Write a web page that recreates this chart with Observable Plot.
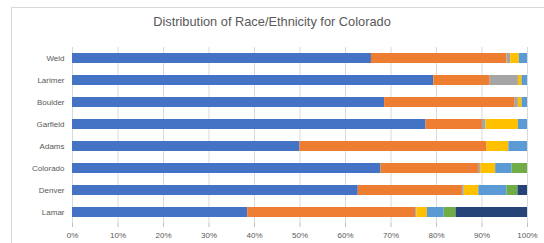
<!DOCTYPE html>
<html><head><meta charset="utf-8">
<script src="https://cdn.jsdelivr.net/npm/d3@7"></script>
<script src="https://cdn.jsdelivr.net/npm/@observablehq/plot@0.6"></script>
<style>
body{margin:0;background:#fff;overflow:hidden;font-family:"Liberation Sans",Arial,sans-serif}
#frame{position:absolute;left:11px;top:7px;width:560px;height:260px;border:1px solid #d9d9d9;}
#title{position:absolute;left:0;top:14px;width:544px;text-align:center;font-size:12.8px;color:#595959}
#chart{position:absolute;left:0;top:35px}
</style></head>
<body>
<div id="frame"></div>
<div id="title">Distribution of Race/Ethnicity for Colorado</div>
<div id="chart"></div>
<script>
const regions = ["Weld","Larimer","Boulder","Garfield","Adams","Colorado","Denver","Lamar"];
const groups = ["White","Hispanic","Black","Asian","Two or More","Other","American Indian"];
const colors = ["#4472C4","#ED7D31","#A5A5A5","#FFC000","#5B9BD5","#70AD47","#264478"];
const white      = [65.7,79.4,68.6,77.7,50.0,67.8,62.8,38.5];
const hispanic   = [29.8,12.4,28.7,12.4,41.1,21.6,22.9,36.9];
const black      = [0.8,6.2,0.7,0.8,0,0.4,0.4,0.3];
const asian      = [1.9,0.8,0.8,7.1,4.8,3.2,3.2,2.3];
const twoOrMore  = [1.8,1.2,1.2,2.0,4.1,3.6,6.2,3.7];
const other      = [0,0,0,0,0,3.4,2.4,2.6];
const amIndian   = [0,0,0,0,0,0,2.1,15.7];
const xTicks = [0,10,20,30,40,50,60,70,80,90,100];

const series = [white,hispanic,black,asian,twoOrMore,other,amIndian];
const data = [];
regions.forEach((r,i)=>series.forEach((s,g)=>data.push({region:r,group:groups[g],value:s[i]})));

const chart = Plot.plot({
  width:544, height:208,
  marginLeft:72, marginRight:17, marginTop:12, marginBottom:20,
  style:{fontFamily:"'Liberation Sans',Arial,sans-serif", background:"transparent"},
  x:{domain:[0,100], label:null},
  y:{domain:regions, label:null, paddingInner:0.55, paddingOuter:0.275},
  color:{domain:groups, range:colors},
  marks:[
    Plot.ruleX(xTicks,{stroke:"#d9d9d9", strokeWidth:1}),
    Plot.barX(data,{x:"value", y:"region", fill:"group"}),
    Plot.axisX({ticks:xTicks, tickFormat:d=>d+"%", tickSize:4, tickPadding:5, stroke:"#bfbfbf", fill:"#595959", fontSize:8, label:null}),
    Plot.axisY({tickSize:0, tickPadding:8, fill:"#595959", fontSize:8, label:null})
  ]
});
document.getElementById("chart").appendChild(chart);
</script>
</body></html>
